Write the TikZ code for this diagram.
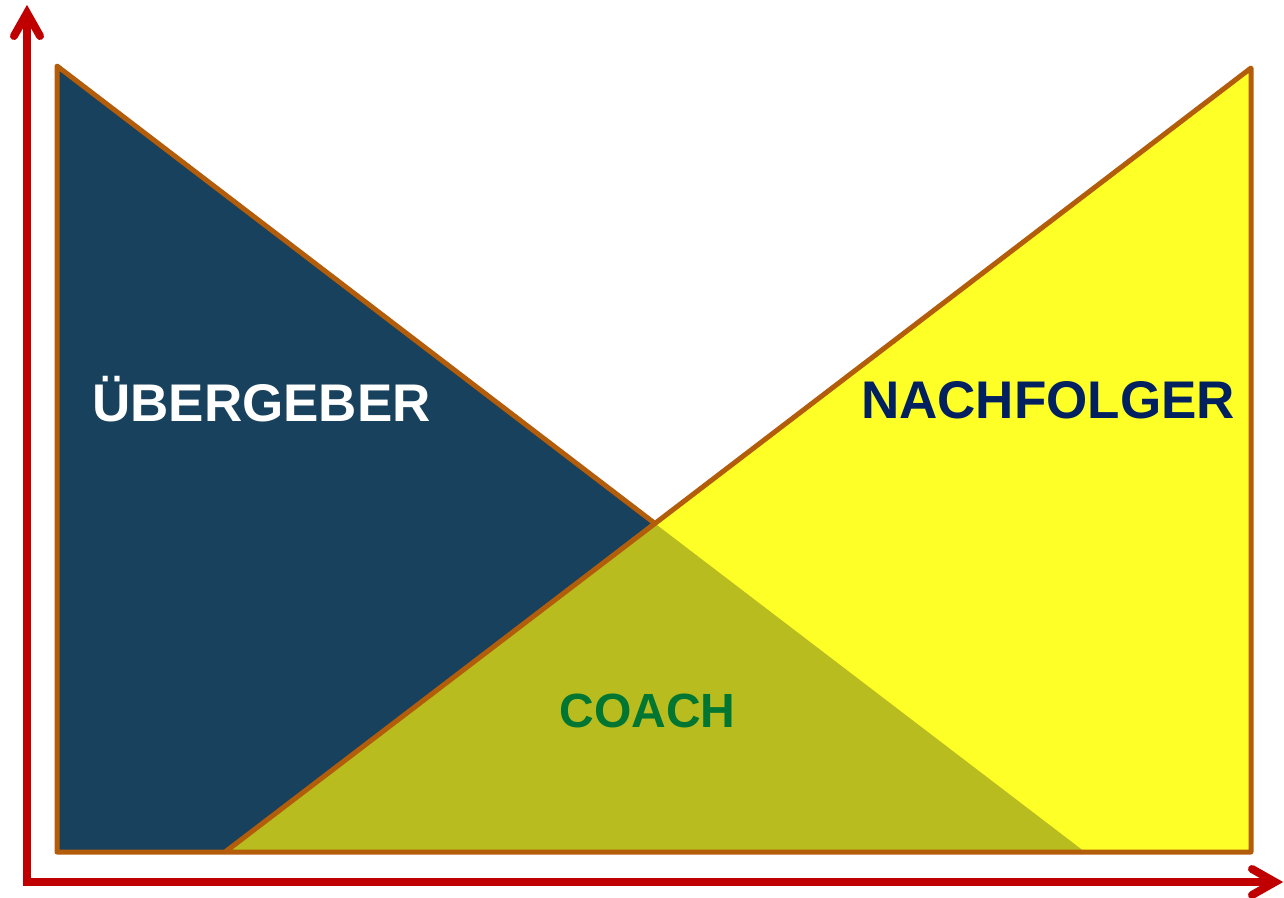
\documentclass[tikz,border=0pt]{standalone}
\usepackage{fontspec}
\setmainfont{Liberation Sans}
\definecolor{axisred}{RGB}{192,0,0}
\definecolor{edgebrown}{RGB}{179,92,10}
\definecolor{navyfill}{RGB}{23,65,92}
\definecolor{yelfill}{RGB}{255,255,40}
\definecolor{olivefill}{RGB}{184,188,30}
\definecolor{navytext}{RGB}{0,32,96}
\definecolor{greentext}{RGB}{0,118,50}
\tikzset{
  axisline/.style={draw=axisred, line width=8pt},
  axishead/.style={draw=axisred, line width=8pt, line cap=round, line join=miter},
  edge/.style={draw=edgebrown, line width=5pt, line join=round, line cap=round},
  label/.style={inner sep=0pt, anchor=base, font=\fontsize{53}{60}\selectfont\bfseries},
}
\begin{document}
\begin{tikzpicture}[x=1pt,y=-1pt]
\useasboundingbox (0,0) rectangle (1284,897);
% vertices
\coordinate (TL) at (57,66);
\coordinate (BL) at (57,852);
\coordinate (BS) at (225,852);
\coordinate (X)  at (653,522);
\coordinate (BD) at (1085,852);
\coordinate (BR) at (1251,852);
\coordinate (TR) at (1251,68);
% fills
\fill[navyfill] (TL) -- (BL) -- (BD) -- cycle;
\fill[yelfill] (BS) -- (TR) -- (BR) -- cycle;
\fill[olivefill] (BS) -- (X) -- (BD) -- cycle;
% outline
\draw[edge] (X) -- (TL) -- (BL) -- (BR) -- (TR) -- (BS);
% axes
\coordinate (O) at (27,882);
\coordinate (YT) at (27,13);
\coordinate (YW1) at (14,36);
\coordinate (YW2) at (40,36);
\coordinate (XT) at (1275,882);
\coordinate (XW1) at (1252,869);
\coordinate (XW2) at (1252,895);
\draw[axisline] (27,886) -- (YT);
\draw[axisline] (O) -- (XT);
\draw[axishead] (YW1) -- (YT) -- (YW2);
\draw[axishead] (XW1) -- (XT) -- (XW2);
% labels
\node[label, white] (ueb) at (261.5,421.5) {ÜBERGEBER};
\node[label, navytext] (nach) at (1048,418.5) {NACHFOLGER};
\node[label, greentext, font=\fontsize{48}{56}\selectfont\bfseries] (coach) at (647.5,727) {COACH};
\end{tikzpicture}
\end{document}
